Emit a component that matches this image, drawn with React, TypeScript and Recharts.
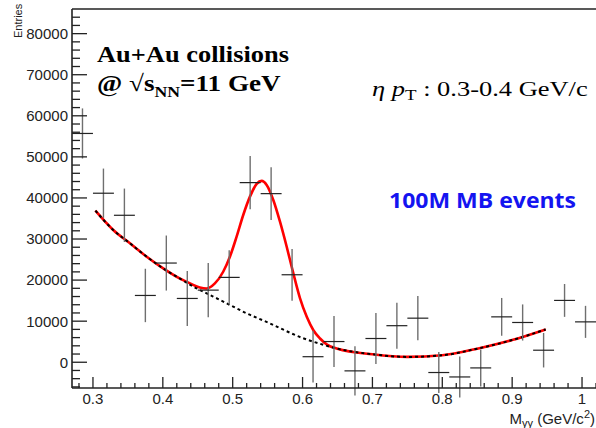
import React from 'react';
import { ComposedChart, Line, Scatter, ErrorBar, XAxis, YAxis } from 'recharts';

// histogram bins (bin width 0.03 GeV/c^2)
const binCenters = [
  0.285, 0.315, 0.345, 0.375, 0.405, 0.435, 0.465, 0.495, 0.525, 0.555, 0.585, 0.615, 0.645,
  0.675, 0.705, 0.735, 0.765, 0.795, 0.825, 0.855, 0.885, 0.915, 0.945, 0.975, 1.005,
];
const entries = [
  55700, 41150, 35780, 16260, 24150, 15530, 17560, 20660, 43730, 41050, 21300, 1350, 5040,
  -2100, 5780, 8900, 10730, -2500, -3580, -1380, 11050, 9680, 2930, 15050, 9830,
];
const entryErrors = [
  6100, 6000, 6500, 6500, 6700, 6700, 6600, 6600, 6500, 6400, 6300, 6300, 6200,
  6000, 6200, 5600, 5400, 5000, 5000, 4500, 4600, 4400, 4200, 4000, 3900,
];
const binHalfWidth = 0.015;

// total fit (signal + background)
const fitMass = [
  0.3035, 0.329, 0.353, 0.377, 0.4, 0.424, 0.439, 0.453, 0.4626, 0.4745, 0.4864, 0.496, 0.5056,
  0.5151, 0.5247, 0.5343, 0.5415, 0.5486, 0.5581, 0.5677, 0.5773, 0.5868, 0.5964, 0.606, 0.6155,
  0.625, 0.635, 0.65, 0.7, 0.75, 0.8, 0.85, 0.9, 0.948,
];
const fitTotal = [
  36900, 32200, 28950, 25690, 22900, 20400, 19190, 18210, 17970, 19190, 22030, 25690, 30570,
  35850, 40320, 43410, 44150, 43170, 39510, 34220, 28120, 21630, 15540, 11050, 7800,
  5780, 4300, 3300, 1950, 1300, 1700, 3300, 5400, 8000,
];

// background only
const bkgMass = [
  0.3035, 0.329, 0.353, 0.377, 0.4, 0.424, 0.445, 0.472, 0.5, 0.52, 0.55, 0.5677, 0.6, 0.625,
  0.65, 0.7, 0.75, 0.8, 0.85, 0.9, 0.948,
];
const bkgValues = [
  36900, 32200, 28950, 25690, 22900, 20400, 18300, 16000, 13600, 11900, 9700, 8300, 5900, 4500,
  3300, 1950, 1300, 1700, 3300, 5400, 8000,
];

const xMajorTicks = [0.3, 0.4, 0.5, 0.6, 0.7, 0.8, 0.9, 1.0];
const xTickLabels = ['0.3', '0.4', '0.5', '0.6', '0.7', '0.8', '0.9', '1'];
const yMajorTicks = [0, 10000, 20000, 30000, 40000, 50000, 60000, 70000, 80000];

const points = binCenters.map((x, i) => ({ x, y: entries[i], ex: binHalfWidth, ey: entryErrors[i] }));
const fitData = fitMass.map((x, i) => ({ x, y: fitTotal[i] }));
const bkgData = bkgMass.map((x, i) => ({ x, y: bkgValues[i] }));

// minor ticks every 0.02 and every 2000, like ROOT's 510 divisions
const xTicks = Array.from({ length: 38 }, (_, i) => Number(((14 + i) * 0.02).toFixed(2)));
const yTicks = Array.from({ length: 46 }, (_, i) => (i - 3) * 2000);

const axisFont = '"Liberation Sans", Arial, Helvetica, sans-serif';
const serif = '"Liberation Serif", "Times New Roman", serif';

const YTick = (props: any) => {
  const { x, y, payload } = props;
  const v = payload.value;
  const major = yMajorTicks.includes(v);
  return (
    <g>
      <line x1={x} x2={x + (major ? 15 : 8)} y1={y} y2={y} stroke="#222" strokeWidth={1.3} />
      {major && (
        <text x={x - 4} y={y} dy="0.36em" textAnchor="end" fontFamily={axisFont} fontSize={15} fill="#222">
          {v}
        </text>
      )}
    </g>
  );
};

const XTick = (props: any) => {
  const { x, y, payload } = props;
  const idx = xMajorTicks.findIndex((t) => Math.abs(t - payload.value) < 1e-6);
  const major = idx >= 0;
  return (
    <g>
      <line x1={x} x2={x} y1={y} y2={y - (major ? 11 : 5)} stroke="#222" strokeWidth={1.3} />
      {major && (
        <text x={x} y={y + 16} textAnchor="middle" fontFamily={axisFont} fontSize={15} fill="#222">
          {xTickLabels[idx]}
        </text>
      )}
    </g>
  );
};

const NoMarker = () => <g />;

export default function App() {
  return (
    <div style={{ position: 'absolute', left: 0, top: 0, width: 596, height: 428, background: '#fff' }}>
      <ComposedChart width={596} height={428} margin={{ top: 9, right: 0, bottom: 0, left: 0 }}>
        <XAxis
          dataKey="x"
          type="number"
          domain={[0.27, 1.02]}
          ticks={xTicks}
          interval={0}
          allowDataOverflow
          height={40}
          tickSize={0}
          tickMargin={0}
          tick={<XTick />}
          axisLine={{ stroke: '#222', strokeWidth: 1.6 }}
        />
        <YAxis
          type="number"
          domain={[-6270, 86000]}
          ticks={yTicks}
          interval={0}
          allowDataOverflow
          width={72}
          tickSize={0}
          tickMargin={0}
          tick={<YTick />}
          axisLine={{ stroke: '#222', strokeWidth: 1.6 }}
        />
        <Line data={fitData} dataKey="y" type="monotone" stroke="#ff0000" strokeWidth={2.6} dot={false} isAnimationActive={false} />
        <Line data={bkgData} dataKey="y" type="monotone" stroke="#000" strokeWidth={2} strokeDasharray="3 3" dot={false} isAnimationActive={false} />
        <Scatter data={points} dataKey="y" shape={<NoMarker />} isAnimationActive={false}>
          <ErrorBar dataKey="ey" direction="y" width={0} stroke="#6f6f6f" strokeWidth={1.4} />
          <ErrorBar dataKey="ex" direction="x" width={0} stroke="#222" strokeWidth={1.2} />
        </Scatter>
      </ComposedChart>
      <svg width={596} height={428} style={{ position: 'absolute', left: 0, top: 0, pointerEvents: 'none' }}>
        <line x1={72} x2={596} y1={9} y2={9} stroke="#222" strokeWidth={1.6} />
        <text transform="translate(22,38) rotate(-90)" fontFamily={axisFont} fontSize={11} fill="#222">
          Entries
        </text>
        <text x={97} y={62} fontFamily={serif} fontWeight="bold" fontSize={23} fill="#000" textLength={192} lengthAdjust="spacingAndGlyphs">
          Au+Au collisions
        </text>
        <g transform="translate(97,91) scale(1.18,1)">
          <text x={0} y={0} fontFamily={serif} fontWeight="bold" fontSize={23} fill="#000">
            @ <tspan fontWeight="normal">√</tspan>s
            <tspan fontSize={15} dy={6}>NN</tspan>
            <tspan dy={-6}>=11 GeV</tspan>
          </text>
        </g>
        <g transform="translate(372,96) scale(1.26,1)">
          <text x={0} y={0} fontFamily={serif} fontSize={21} fill="#000">
            <tspan fontStyle="italic">η p</tspan>
            <tspan fontSize={15} dy={4}>T</tspan>
            <tspan dy={-4}> : 0.3-0.4 GeV/c</tspan>
          </text>
        </g>
        <text x={389} y={208} fontFamily='"Open Sans", Lato, sans-serif' fontWeight="bold" fontSize={21} fill="#1414f0" textLength={187} lengthAdjust="spacingAndGlyphs">
          100M MB events
        </text>
        <text x={595} y={424} textAnchor="end" fontFamily={axisFont} fontSize={15} fill="#222">
          M<tspan fontSize={11} dy={3}>γγ</tspan>
          <tspan dy={-3}> (GeV/c</tspan>
          <tspan fontSize={11} dy={-6}>2</tspan>
          <tspan dy={6}>)</tspan>
        </text>
      </svg>
    </div>
  );
}
